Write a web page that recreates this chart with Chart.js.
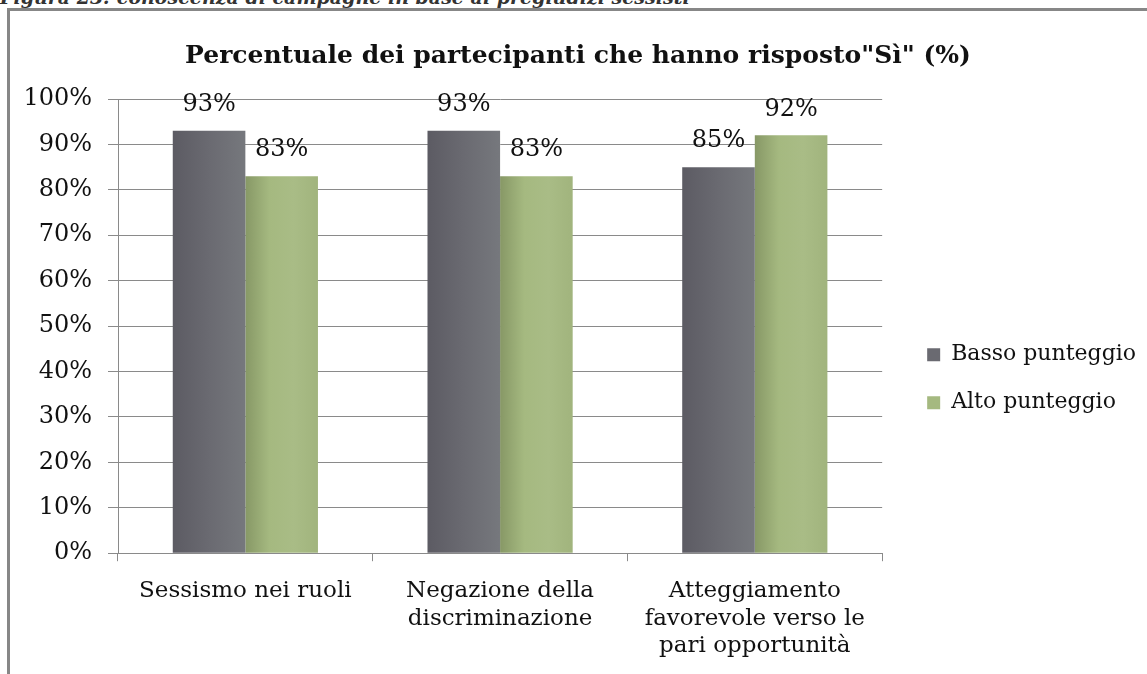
<!DOCTYPE html>
<html>
<head>
<meta charset="utf-8">
<script src="https://cdn.jsdelivr.net/npm/chart.js@4"></script>
<style>
  html, body { margin: 0; padding: 0; background: #fff; overflow: hidden; }
  body { width: 1147px; height: 674px; position: relative; }
  #caption {
    position: absolute; left: 0; top: -14px;
    font: italic bold 19px "DejaVu Serif", serif; color: #333;
    white-space: nowrap;
  }
  #frame {
    position: absolute; left: 7px; top: 8px; width: 1160px; height: 700px;
    border-left: 3px solid #878787; border-top: 3px solid #878787;
  }
  #chart { position: absolute; left: 0; top: 0; }
</style>
</head>
<body>
<div id="caption">Figura 23: conoscenza di campagne in base ai pregiudizi sessisti</div>
<div id="frame"><canvas id="chart" width="1137" height="665"></canvas></div>
<script>
// categories (multi-line labels as in the original)
var categories = [
  ["Sessismo nei ruoli"],
  ["Negazione della", "discriminazione"],
  ["Atteggiamento", "favorevole verso le", "pari opportunità"]
];
var seriesNames = ["Basso punteggio", "Alto punteggio"];
var bassoValues = [93, 93, 85];
var altoValues = [83, 83, 92];
var yTicks = [0, 10, 20, 30, 40, 50, 60, 70, 80, 90, 100];

var titleText = 'Percentuale dei partecipanti che hanno risposto"Sì" (%)';

// bar shading, left -> right
var darkShade = ["#5c5b63", "#6a6a71", "#76787d"];
var greenShade = ["#879866", "#a5b980", "#a9bc86", "#a1b47d"];
var serif = "'DejaVu Serif', serif";

// gives each bar its own horizontal gradient
var barShading = {
  id: 'barShading',
  beforeDatasetsDraw: function(chart) {
    var ctx = chart.ctx;
    chart.data.datasets.forEach(function(ds, i) {
      var stops = i === 0 ? darkShade : greenShade;
      chart.getDatasetMeta(i).data.forEach(function(bar) {
        var g = ctx.createLinearGradient(bar.x - bar.width / 2, 0, bar.x + bar.width / 2, 0);
        stops.forEach(function(c, k) { g.addColorStop(k / (stops.length - 1), c); });
        bar.options = Object.assign({}, bar.options, { backgroundColor: g });
      });
    });
  }
};

// value labels over the bars
var valueLabels = {
  id: 'valueLabels',
  afterDatasetsDraw: function(chart) {
    var ctx = chart.ctx;
    ctx.save();
    ctx.font = "24px " + serif;
    ctx.fillStyle = "#111";
    ctx.textAlign = "center";
    ctx.textBaseline = "middle";
    chart.data.datasets.forEach(function(ds, i) {
      chart.getDatasetMeta(i).data.forEach(function(bar, j) {
        ctx.fillText(ds.data[j] + "%", bar.x, bar.y - 26);
      });
    });
    ctx.restore();
  }
};

var myChart = document.getElementById('chart');

var myBarChart = new Chart(myChart, {
  type: 'bar',
  data: {
    labels: categories,
    datasets: [
      { label: seriesNames[0], data: bassoValues, backgroundColor: darkShade[1] },
      { label: seriesNames[1], data: altoValues, backgroundColor: greenShade[1] }
    ]
  },
  options: {
    responsive: false,
    animation: false,
    categoryPercentage: 0.57,
    barPercentage: 1,
    layout: { padding: { left: 0, right: 1, top: 0, bottom: 0 } },
    plugins: {
      title: {
        display: true,
        text: titleText,
        color: '#111',
        font: { family: serif, size: 25, weight: 'bold' },
        padding: { top: 30, bottom: 28 }
      },
      legend: {
        position: 'right',
        maxWidth: 320,
        // empty legend title only pushes the entries down
        title: { display: true, text: '', font: { size: 22, lineHeight: 1.2 }, padding: 22 },
        labels: {
          color: '#111',
          font: { family: serif, size: 22 },
          boxWidth: 13,
          boxHeight: 13,
          padding: 26
        }
      },
      tooltip: { enabled: false }
    },
    scales: {
      x: {
        grid: { drawOnChartArea: false, drawTicks: true, tickLength: 8, color: '#8a8a8a' },
        border: { color: '#8a8a8a' },
        ticks: { color: '#111', font: { family: serif, size: 23, lineHeight: 1.2 }, padding: 16, maxRotation: 0 }
      },
      y: {
        min: 0,
        max: 100,
        afterBuildTicks: function(scale) {
          scale.ticks = yTicks.map(function(v) { return { value: v }; });
        },
        afterFit: function(scale) { scale.width = 108; },
        grid: { color: '#8a8a8a', tickLength: 10 },
        border: { color: '#8a8a8a' },
        ticks: {
          color: '#111',
          font: { family: serif, size: 24 },
          padding: 16,
          callback: function(v) { return v + '%'; }
        }
      },
      // empty spacer axis between the plot and the legend
      gap: {
        position: 'right',
        display: true,
        grid: { display: false },
        border: { display: false },
        ticks: { display: false },
        afterFit: function(scale) { scale.width = 19; }
      }
    }
  },
  plugins: [barShading, valueLabels]
});
</script>
</body>
</html>
